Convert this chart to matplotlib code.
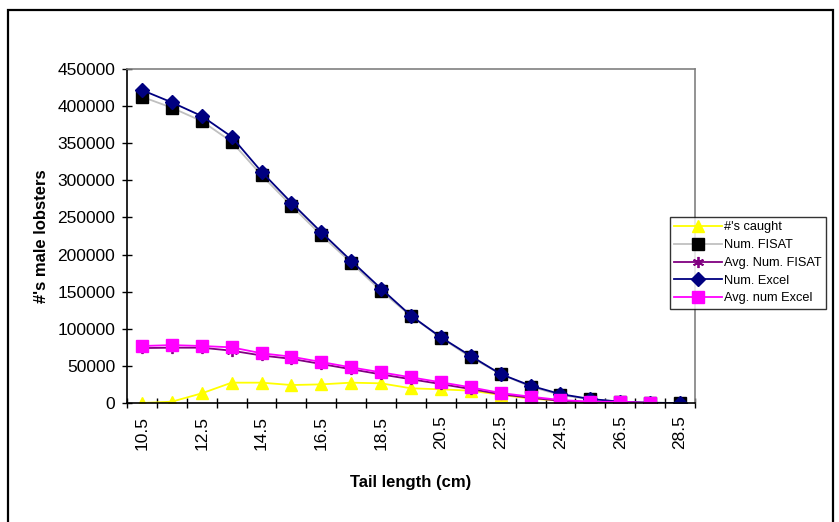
import numpy as np
import matplotlib
matplotlib.use("Agg")
import matplotlib.pyplot as plt
from matplotlib.patches import Rectangle
from matplotlib.ticker import FixedLocator, NullFormatter

plt.rcParams['font.family'] = ['Liberation Sans', 'DejaVu Sans']

# tail length classes (cm)
tail_len = ['10.5', '11.5', '12.5', '13.5', '14.5', '15.5', '16.5', '17.5', '18.5', '19.5',
            '20.5', '21.5', '22.5', '23.5', '24.5', '25.5', '26.5', '27.5', '28.5']

caught = [0, 1800, 13000, 27400, 27400, 24200, 25100, 27400, 26500, 19800,
          18400, 16600, 11000, 6000, 3000, 1000, 500, 0, 0]
num_fisat = [412600, 397800, 379800, 352000, 307000, 265800, 226000, 189000, 151000, 117000,
             88000, 61500, 39000, 22000, 10800, 5000, 1800, 500, 0]
avg_num_fisat = [74000, 74500, 74500, 70500, 64000, 59500, 52500, 45500, 38500, 32000,
                 25500, 18800, 11800, 7000, 3000, 1000, 500, 0, np.nan]
num_excel = [421600, 405000, 386600, 358700, 311600, 269800, 230000, 191600, 154000, 117600,
             88500, 63300, 39000, 23300, 12000, 5400, 1800, 300, 0]
avg_num_excel = [76800, 78000, 76800, 75000, 67000, 62400, 55200, 48000, 41300, 34600,
                 27900, 21100, 13500, 8500, 4000, 1800, 1800, 0, np.nan]

x = np.arange(len(tail_len))

fig = plt.figure(figsize=(8.39, 5.22), dpi=100)
ax = fig.add_axes([127/839, 1 - 403/522, (695 - 127)/839, (403 - 69)/522])

lw = 1.3
ms = 8
ax.plot(x, caught, color='#FFFF00', lw=lw, marker='^', ms=ms, mec='#FFFF00', label="#'s caught")
ax.plot(x, num_fisat, color='#C0C0C0', lw=lw, marker='s', ms=ms, mfc='black', mec='black', label='Num. FISAT')
ax.plot(x, avg_num_fisat, color='#800080', lw=lw, marker=(6, 2, 0), ms=ms, mec='#800080', mew=1.3,
        label='Avg. Num. FISAT')
ax.plot(x, num_excel, color='#000080', lw=lw, marker='D', ms=7.5, mfc='#000080', mec='#000080', label='Num. Excel')
ax.plot(x, avg_num_excel, color='#FF00FF', lw=lw, marker='s', ms=ms, mfc='#FF00FF', mec='#FF00FF',
        label='Avg. num Excel')

ax.set_xlim(-0.5, len(tail_len) - 0.5)
ax.set_ylim(0, 450000)
ax.set_yticks(np.arange(0, 450001, 50000))

# category labels every other class, tick marks between classes
ax.set_xticks(x[::2])
ax.set_xticklabels(tail_len[::2], rotation=90)
ax.xaxis.set_minor_locator(FixedLocator(np.arange(-0.5, len(tail_len), 1)))
ax.xaxis.set_minor_formatter(NullFormatter())
ax.tick_params(axis='x', which='major', length=0, pad=9, labelsize=12.5)
ax.tick_params(axis='x', which='minor', direction='inout', length=7, width=1)
ax.tick_params(axis='y', direction='inout', length=7, width=1, labelsize=12.5, pad=5)

for s in ['top', 'right']:
    ax.spines[s].set_color('#808080')
    ax.spines[s].set_linewidth(1.2)
for s in ['left', 'bottom']:
    ax.spines[s].set_color('black')
    ax.spines[s].set_linewidth(1.2)

ax.set_xlabel('Tail length (cm)', fontsize=12, fontweight='bold', labelpad=18)
ax.set_ylabel("#'s male lobsters", fontsize=12, fontweight='bold', labelpad=6)

leg = fig.legend(loc='upper left', bbox_to_anchor=(670/839, 1 - 217/522), fontsize=9.2,
                 frameon=True, fancybox=False, handlelength=3.7, handletextpad=0.2,
                 labelspacing=0.45, borderpad=0.35, borderaxespad=0)
leg.get_frame().set_edgecolor('black')
leg.get_frame().set_linewidth(1.0)

# outer chart border
fig.patches.append(Rectangle((8/839, -0.02), (833 - 8)/839, 1 - 10/522 + 0.02, transform=fig.transFigure,
                             fill=False, edgecolor='black', linewidth=1.6))

fig.savefig('out.png', dpi=100)
